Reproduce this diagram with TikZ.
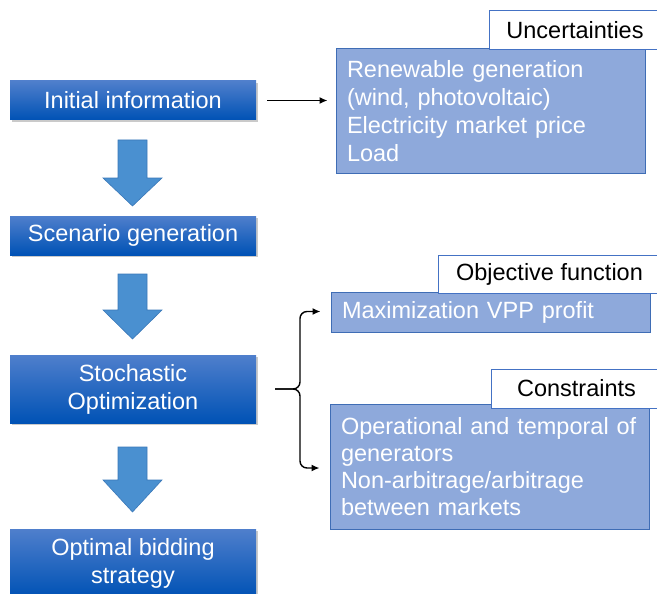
\documentclass[tikz,border=0pt]{standalone}
\usepackage{fontspec}
\setmainfont{Liberation Sans}
\usetikzlibrary{arrows.meta,shadows}
\definecolor{boxtop}{HTML}{4F7FCC}
\definecolor{boxbot}{HTML}{0052B5}
\definecolor{arrfill}{HTML}{4A90D0}
\definecolor{arrline}{HTML}{3A78B8}
\definecolor{lightbox}{HTML}{8EA9DB}
\definecolor{lightline}{HTML}{3F6DB5}
\definecolor{titleline}{HTML}{4472C4}
\tikzset{
  stepbox/.style={rectangle, top color=boxtop, bottom color=boxbot, draw=none,
    minimum width=246pt, inner sep=0pt, text=white, align=center,
    font=\fontsize{23.5}{28}\selectfont,
    drop shadow={shadow xshift=1.5pt, shadow yshift=-2pt, opacity=0.35, fill=black!60}},
  infobox/.style={rectangle, fill=lightbox, draw=lightline, line width=1pt,
    inner xsep=11pt, inner ysep=0pt, text=white, align=left,
    font=\fontsize{23.5}{28}\selectfont},
  titlebox/.style={rectangle, fill=white, draw=titleline, line width=1pt,
    inner sep=0pt, text=black, font=\fontsize{23.5}{28}\selectfont},
  blockarrow/.style={fill=arrfill, draw=arrline, line width=0.6pt, line join=miter},
  conn/.style={line width=1.4pt, -{Latex[length=8pt,width=7pt]}},
}
\newcommand{\blockarr}[3]{%
  \draw[blockarrow] (118,#1) -- (147,#1) -- (147,#2) -- (162,#2) -- (132.5,#3)
    -- (103,#2) -- (118,#2) -- cycle;}
\begin{document}
\begin{tikzpicture}[x=1pt,y=-1pt]
\useasboundingbox (0,0) rectangle (657,594);
% left column
\node[stepbox, minimum height=39pt] (init) at (133,100.5) {Initial information};
\node[stepbox, minimum height=39pt] (scen) at (133,235.5) {Scenario generation};
\node[stepbox, minimum height=68pt] (stoch) at (133,389) {Stochastic\\Optimization};
\node[stepbox, minimum height=68pt] (opt) at (133,563) {Optimal bidding\\strategy};
% block arrows
\blockarr{140}{178}{206}
\blockarr{274}{310}{339}
\blockarr{447}{480}{512}
% uncertainties
\node[infobox, minimum width=309pt, minimum height=125pt, text width=287pt] (unc) at (490.5,111)
  {Renewable generation\\(wind, photovoltaic)\\Electricity market price\\Load};
\node[titlebox, minimum width=172pt, minimum height=39pt] (unct) at (575,30.5) {Uncertainties};
% objective
\node[infobox, minimum width=319pt, minimum height=40pt, text width=297pt] (obj) at (490.5,312.5)
  {Maximization VPP profit};
\node[titlebox, minimum width=223pt, minimum height=38pt] (objt) at (549.5,274) {Objective function};
% constraints
\node[infobox, minimum width=319pt, minimum height=125pt, text width=297pt,
  font=\fontsize{23.5}{27}\selectfont] (cons) at (489.5,467)
  {Operational and temporal of\\generators\\Non-arbitrage/arbitrage\\between markets};
\node[titlebox, minimum width=171pt, minimum height=39pt] (const) at (576.5,388.5) {Constraints};
% connectors
\draw[conn, shorten <=11pt, shorten >=8pt] (init.east) -- (unc.west |- init.east);
\coordinate (bt) at (275,389);
\draw[conn, rounded corners=7pt] (bt) -- ++(25pt,0) |- ([xshift=-10pt,yshift=1pt]obj.west);
\draw[conn, rounded corners=7pt] (bt) -- ++(25pt,0) |- ([xshift=-10pt,yshift=-1pt]cons.west);
\end{tikzpicture}
\end{document}
